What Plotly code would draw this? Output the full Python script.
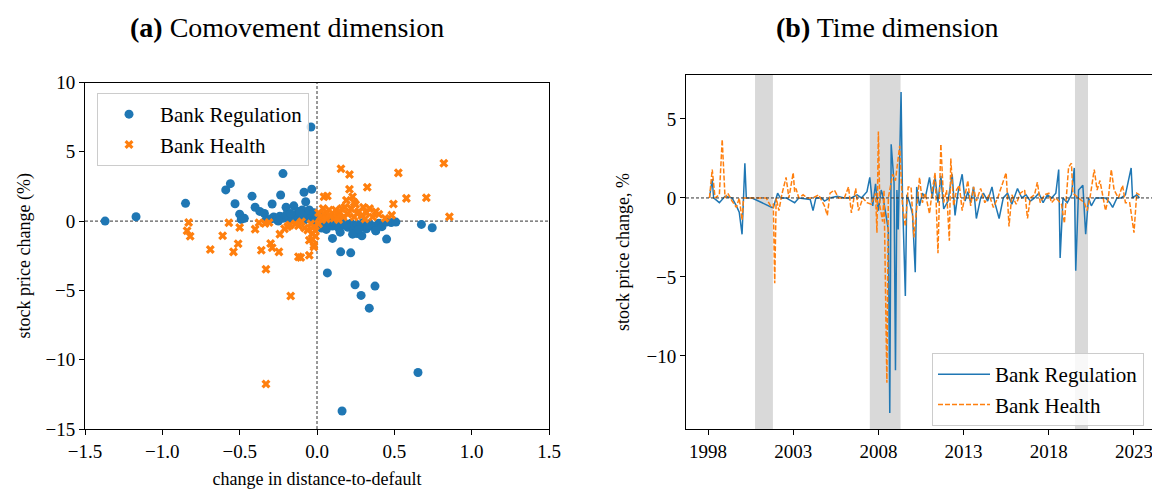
import plotly.graph_objects as go

# ---------------- Panel (a): scatter data ----------------
reg_dd = [-1.37, -1.17, -0.85, -0.59, -0.56, -0.53, -0.50, -0.49, -0.47, -0.42, -0.40, -0.37, -0.34,
          -0.29, -0.235, -0.22, -0.20, -0.15, -0.12, -0.095, -0.073, -0.084, -0.034, -0.039,
          -0.30, -0.28, -0.26, -0.24, -0.22, -0.20, -0.18, -0.16, -0.14, -0.12, -0.10, -0.08, -0.06,
          -0.04, -0.02, -0.01, -0.33, -0.25, -0.17, -0.11, -0.05, 0.00, -0.02,
          0.01, 0.02, 0.03, 0.05, 0.06, 0.08, 0.10, 0.12, 0.14, 0.16, 0.18, 0.20, 0.22, 0.24, 0.26,
          0.28, 0.30, 0.32, 0.34, 0.36, 0.38, 0.40, 0.42, 0.45, 0.48, 0.51, 0.04, 0.07, 0.15, 0.26,
          0.29, 0.23, 0.10, 0.153, 0.218, 0.45, 0.675, 0.745, 0.067, 0.246, 0.285, 0.338, 0.375,
          0.653, 0.162, 0.38, 0.11, 0.19, 0.27, 0.33]
reg_sp = [0.0, 0.31, 1.28, 2.25, 2.7, 1.25, 0.5, 0.12, 0.2, 1.8, 1.0, 0.7, 0.55,
          1.23, 1.88, 3.43, 1.0, 1.1, 0.7, 0.8, 1.4, 2.08, 2.3, 6.79,
          0.15, 0.3, 0.1, 0.35, 0.2, 0.45, 0.25, 0.1, 0.4, 0.2, 0.3, 0.1, 0.5,
          0.2, 0.0, 0.35, 0.05, 0.0, 0.55, 0.6, 0.8, 0.4, 0.6,
          -0.3, 0.1, -0.5, -0.2, -0.6, -0.1, -0.35, -0.2, -0.5, -0.1, -0.3, -0.45, -0.15, -0.6, -0.25,
          -0.4, -0.1, -0.55, -0.2, -0.35, -0.7, -0.15, -0.4, -0.07, -0.1, -0.07, 0.3, 0.2, -0.8, -0.9,
          -1.06, -0.94, -1.25, -2.22, -2.29, -1.3, -0.24, -0.48, -3.74, -4.59, -5.36, -6.28, -4.69,
          -10.92, -13.7, -0.7, -0.05, -0.25, -0.6, -0.3]

hea_dd = [-0.83, -0.84, -0.82, -0.69, -0.61, -0.57, -0.54, -0.51, -0.50, -0.40, -0.375, -0.36,
          -0.336, -0.33, -0.31, -0.30, -0.29, -0.246, -0.24, -0.21, -0.19, -0.175, -0.12, -0.12,
          -0.05, -0.06, -0.05, -0.02, -0.03, -0.04, -0.01, -0.105, -0.33, -0.17, -0.02, -0.08,
          -0.14, -0.10, -0.02, -0.01, -0.03,
          0.045, 0.067, 0.078, 0.13, 0.155, 0.21, 0.21, 0.23, 0.325, 0.526, 0.82, 0.578, 0.707,
          0.494, 0.483, 0.856, 0.02, 0.03, 0.05, 0.09, 0.11, 0.12, 0.15, 0.17, 0.18, 0.20, 0.22,
          0.24, 0.25, 0.27, 0.29, 0.30, 0.32, 0.34, 0.36, 0.38, 0.40, 0.24, 0.19, 0.01, 0.04, 0.06,
          0.14, 0.16, 0.44, 0.01, 0.08, 0.13, 0.26, 0.31]
hea_sp = [-0.1, -0.7, -1.09, -2.05, -1.06, -0.12, -2.22, -1.64, -0.46, -0.58, -0.12, -2.1,
          -0.17, -3.48, -0.1, -1.62, -1.93, -2.22, -0.94, -0.56, -0.4, -0.29, -0.34, -2.58,
          -2.46, -0.65, -1.38, -1.74, -0.9, -0.2, -1.1, -2.63, -11.76, -5.41, -1.86, -0.5,
          -0.2, -0.05, -0.4, -0.7, -1.3,
          1.76, 1.81, 0.8, 0.56, 3.77, 3.36, 2.3, 1.76, 2.44, 3.48, 4.18, 1.64, 1.69,
          1.23, 0.43, 0.31, 0.3, 0.1, 0.5, 0.35, 0.2, 0.8, 0.6, 0.3, 1.0, 0.5, 0.9,
          0.3, 1.2, 0.7, 0.4, 1.0, 0.6, 0.9, 0.3, 0.7, 0.5, 1.35, 1.5, 0.6, 0.9, 0.15,
          0.1, 0.9, 0.2, -0.2, 0.45, 0.25, 0.55, 0.15]

# ---------------- Panel (b): time series data ----------------
reg_dates = ["1998-02", "1998-04", "1998-05", "1998-09", "1999-01", "1999-06", "1999-09", "1999-11",
             "2000-01", "2000-03", "2000-04", "2000-08", "2001-10", "2001-11", "2002-02", "2002-04",
             "2002-08", "2003-02", "2003-05", "2004-01", "2004-03", "2004-05", "2004-09", "2004-11",
             "2005-03", "2005-08", "2006-01", "2006-06", "2006-10", "2007-01", "2007-05", "2007-07",
             "2007-09", "2007-11", "2008-01", "2008-03", "2008-04", "2008-06", "2008-08", "2008-09",
             "2008-10", "2008-12", "2009-01", "2009-02", "2009-03", "2009-05", "2009-06", "2009-08",
             "2009-09", "2009-11", "2010-01", "2010-03", "2010-04", "2010-06", "2010-08", "2010-10",
             "2011-01", "2011-03", "2011-05", "2011-07", "2011-09", "2011-11", "2012-02", "2012-05",
             "2012-07", "2012-09", "2012-12", "2013-02", "2013-04", "2013-06", "2013-08", "2013-10",
             "2014-01", "2014-03", "2014-06", "2014-09", "2014-11", "2015-02", "2015-05", "2015-08",
             "2015-11", "2016-03", "2016-06", "2016-09", "2016-12", "2017-03", "2017-06", "2017-09",
             "2017-12", "2018-03", "2018-06", "2018-08", "2018-09", "2018-11", "2019-02", "2019-05",
             "2019-07", "2019-08", "2019-10", "2020-01", "2020-03", "2020-05", "2020-07", "2020-10",
             "2021-01", "2021-05", "2021-08", "2021-10", "2022-01", "2022-04", "2022-07", "2022-11",
             "2022-12", "2023-03", "2023-05"]
reg_vals = [0.0, 1.2, 0.0, -0.3, 0.1, 0.0, -0.5, -0.9,
            -2.3, 2.2, 0.0, 0.0, -0.6, -0.6, 0.3, 0.0,
            0.0, -0.3, 0.0, -0.1, -0.8, 0.0, 0.0, -0.2,
            0.0, 0.1, 0.0, 0.0, 0.2, 0.0, 0.4, 1.3,
            -0.5, 0.9, -0.8, 0.5, 0.2, -1.0, -2.0, -13.6,
            3.4, 1.0, -10.9, 0.5, -2.0, 6.7, 0.0, -6.2,
            0.2, -0.3, -1.0, -4.7, 0.7, -0.5, 0.3, 0.0,
            1.3, 0.0, 1.3, -0.3, 1.4, -0.7, -0.2, 1.5,
            -1.1, 0.3, 1.5, -0.2, 0.4, -0.3, 0.7, -1.3,
            0.0, 0.3, -0.2, 0.7, -0.3, -1.3, 0.0, 0.3,
            -0.4, 0.6, 0.0, 0.2, -0.2, 0.0, 0.3, -0.3,
            0.2, 0.0, 0.3, 1.8, -3.8, 0.0, -0.3, 0.2,
            1.9, -4.6, 0.5, 0.8, -2.3, 0.0, -0.5, 0.0,
            0.0, 0.0, -0.3, -0.6, 0.0, 0.0, 0.2, 1.9,
            0.0, 0.2, 0.0]

hea_dates = ["1998-02", "1998-04", "1998-06", "1998-09", "1998-11", "1999-01", "1999-03", "1999-06",
             "1999-09", "1999-11", "2000-01", "2000-02", "2000-05", "2000-09", "2001-03", "2001-06",
             "2001-09", "2001-11", "2001-12", "2002-01", "2002-03", "2002-05", "2002-08", "2002-10",
             "2003-01", "2003-02", "2003-03", "2003-05", "2003-08", "2003-11", "2004-03", "2004-07",
             "2004-11", "2005-01", "2005-03", "2005-06", "2005-09", "2006-01", "2006-04", "2006-06",
             "2006-09", "2006-11", "2007-02", "2007-05", "2007-08", "2007-11", "2007-12", "2008-01",
             "2008-02", "2008-04", "2008-05", "2008-07", "2008-08", "2008-11", "2009-01", "2009-04",
             "2009-06", "2009-08", "2009-10", "2009-12", "2010-02", "2010-06", "2010-08", "2010-10",
             "2011-01", "2011-03", "2011-05", "2011-07", "2011-09", "2011-11", "2012-01", "2012-03",
             "2012-04", "2012-06", "2012-08", "2012-10", "2012-12", "2013-02", "2013-04", "2013-06",
             "2013-08", "2013-10", "2014-01", "2014-04", "2014-07", "2014-10", "2015-01", "2015-07",
             "2015-09", "2015-11", "2016-02", "2016-05", "2016-08", "2016-10", "2016-12", "2017-03",
             "2017-05", "2017-07", "2017-10", "2018-01", "2018-03", "2018-06", "2018-10", "2018-12",
             "2019-02", "2019-03", "2019-05", "2019-06", "2019-10", "2020-02", "2020-04", "2020-06",
             "2020-09", "2020-11", "2021-01", "2021-03", "2021-05", "2021-07", "2021-09", "2021-11",
             "2022-02", "2022-05", "2022-07", "2022-10", "2023-01", "2023-03", "2023-05"]
hea_vals = [0.0, 1.8, 0.0, 0.2, 3.7, 0.0, 0.3, -0.2,
            -0.6, 0.0, -1.4, 0.0, 0.0, 0.0, 0.0, 0.0,
            -0.5, -0.4, -5.4, 0.0, -0.8, 0.2, 1.3, 0.0,
            1.6, 0.4, 0.6, 0.0, 0.2, 0.0, 0.0, 0.2,
            -0.5, -1.1, 0.3, 0.5, 0.0, 0.0, 0.7, -0.95,
            0.6, -0.8, 0.0, -0.3, -0.4, 0.3, -2.2, 4.2,
            -0.5, -1.5, 0.5, -11.7, 0.0, 1.5, 1.1, 3.3,
            -0.5, -1.8, 0.7, 0.7, -2.5, 1.3, -0.3, 0.3,
            -1.0, 0.5, 1.6, -3.5, 3.4, -0.3, 0.5, -2.7,
            2.5, -0.5, 0.5, 0.8, -0.8, 0.2, 1.1, -0.5,
            0.7, -0.2, 0.6, -0.3, 0.2, -0.6, 0.0, 1.6,
            -1.8, 0.2, -0.4, 0.3, 0.5, -1.3, 0.0, 0.2,
            1.0, -0.3, 0.2, 0.3, -0.3, 0.0, -0.4, -1.6,
            0.9, 1.95, 2.2, 0.3, 0.0, -0.3, -0.8, 0.0,
            1.8, 0.5, 1.1, 0.2, -0.8, 0.0, 1.8, 0.5,
            0.0, 0.8, -0.3, -0.3, -2.2, 0.3, 0.2]

recession_start = ["2000-10-05", "2007-07-01", "2019-07-16"]
recession_end = ["2001-10-23", "2009-04-20", "2020-04-20"]

year_ticks = ["1998-01-01", "2003-01-01", "2008-01-01", "2013-01-01", "2018-01-01", "2023-01-01"]
year_labels = ["1998", "2003", "2008", "2013", "2018", "2023"]

BLUE = "#1f77b4"
ORANGE = "#ff7f0e"
FONT = "Liberation Serif"
W, H = 1152, 489
TICK = 19
LAB = 18

fig = go.Figure()

fig.add_trace(go.Scatter(x=reg_dd, y=reg_sp, mode="markers", name="Bank Regulation",
                         marker=dict(color=BLUE, size=9, symbol="circle", line=dict(width=0)),
                         xaxis="x", yaxis="y", legend="legend"))
fig.add_trace(go.Scatter(x=hea_dd, y=hea_sp, mode="markers", name="Bank Health",
                         marker=dict(color=ORANGE, size=8, symbol="x", line=dict(width=0)),
                         xaxis="x", yaxis="y", legend="legend"))

fig.add_trace(go.Scatter(x=reg_dates, y=reg_vals, mode="lines", name="Bank Regulation",
                         line=dict(color=BLUE, width=1.5),
                         xaxis="x2", yaxis="y2", legend="legend2"))
fig.add_trace(go.Scatter(x=hea_dates, y=hea_vals, mode="lines", name="Bank Health",
                         line=dict(color=ORANGE, width=1.5, dash="5px,2px"),
                         xaxis="x2", yaxis="y2", legend="legend2"))

shapes = []
for s, e in zip(recession_start, recession_end):
    shapes.append(dict(type="rect", xref="x2", yref="y2 domain", x0=s, x1=e, y0=0, y1=1,
                       fillcolor="#d9d9d9", line=dict(width=0), layer="below"))
# zero reference lines
shapes.append(dict(type="line", xref="x domain", yref="y", x0=0, x1=1, y0=0, y1=0,
                   line=dict(color="#333333", width=1, dash="3px,2px"), layer="below"))
shapes.append(dict(type="line", xref="x", yref="y domain", x0=0, x1=0, y0=0, y1=1,
                   line=dict(color="#333333", width=1, dash="3px,2px"), layer="below"))
shapes.append(dict(type="line", xref="x2 domain", yref="y2", x0=0, x1=1, y0=0, y1=0,
                   line=dict(color="#333333", width=1, dash="3px,2px"), layer="above"))

def px_to_dom_y(py):
    return 1 - py / H

axis_common = dict(showgrid=False, zeroline=False, showline=True, linecolor="black", linewidth=1,
                   ticks="outside", ticklen=5, tickwidth=1, tickcolor="black", automargin=False,
                   ticklabeloverflow="allow",
                   tickfont=dict(family=FONT, size=TICK, color="black"))

fig.update_layout(
    width=W, height=H,
    margin=dict(l=0, r=0, t=0, b=0),
    paper_bgcolor="white", plot_bgcolor="white",
    font=dict(family=FONT, size=LAB, color="black"),
    shapes=shapes,
    xaxis=dict(domain=[85 / W, 549 / W], range=[-1.5, 1.5], anchor="y", mirror=True,
               tickvals=[-1.5, -1.0, -0.5, 0.0, 0.5, 1.0, 1.5],
               ticktext=["\u22121.5", "\u22121.0", "\u22120.5", "0.0", "0.5", "1.0", "1.5"],
               title=dict(text="change in distance-to-default", font=dict(family=FONT, size=LAB), standoff=12),
               **axis_common),
    yaxis=dict(domain=[px_to_dom_y(429), px_to_dom_y(82.5)], range=[-15, 10], anchor="x", mirror=True,
               tickvals=[10, 5, 0, -5, -10, -15],
               ticktext=["10", "5", "0", "\u22125", "\u221210", "\u221215"],
               title=dict(text="stock price change (%)", font=dict(family=FONT, size=LAB), standoff=10),
               **axis_common),
    xaxis2=dict(domain=[686 / W, 1.0], range=["1996-09-16", "2024-01-22"], type="date", anchor="y2",
                mirror=True, tickvals=year_ticks, ticktext=year_labels, **axis_common),
    yaxis2=dict(domain=[px_to_dom_y(429), px_to_dom_y(75)], range=[-14.62, 7.78], anchor="x2",
                mirror=False, tickvals=[5, 0, -5, -10],
                ticktext=["5", "0", "\u22125", "\u221210"],
                title=dict(text="stock price change, %", font=dict(family=FONT, size=LAB), standoff=12),
                **axis_common),
    legend=dict(x=97 / W, y=px_to_dom_y(93), xanchor="left", yanchor="top",
                bgcolor="rgba(255,255,255,0.8)", bordercolor="#cccccc", borderwidth=1,
                font=dict(family=FONT, size=21), itemwidth=52, tracegroupgap=2),
    legend2=dict(x=932 / W, y=px_to_dom_y(353), xanchor="left", yanchor="top",
                 bgcolor="rgba(255,255,255,0.8)", bordercolor="#cccccc", borderwidth=1,
                 font=dict(family=FONT, size=21), itemwidth=52),
    annotations=[
        dict(text="<b>(a)</b> Comovement dimension", x=287 / W, y=px_to_dom_y(27), xref="paper", yref="paper",
             showarrow=False, font=dict(family=FONT, size=28), xanchor="center", yanchor="middle"),
        dict(text="<b>(b)</b> Time dimension", x=887 / W, y=px_to_dom_y(27), xref="paper", yref="paper",
             showarrow=False, font=dict(family=FONT, size=28), xanchor="center", yanchor="middle"),
    ],
)

fig.write_html("out.html")
